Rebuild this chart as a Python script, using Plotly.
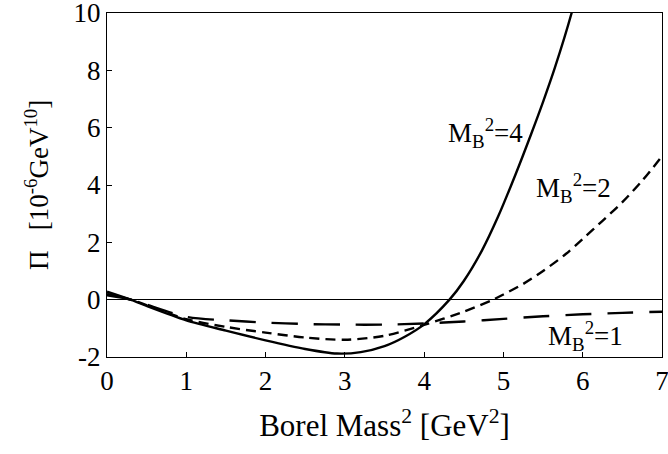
import plotly.graph_objects as go

# Borel mass squared [GeV^2]
x_m4 = [0.0, 0.3, 0.5, 1.0, 1.5, 2.0, 2.5, 2.9, 3.2, 3.5, 3.75, 4.0, 4.32, 4.5, 4.73, 4.93, 5.15, 5.35, 5.5, 5.65, 5.86, 5.95]
y_m4 = [0.28, 0.0, -0.22, -0.72, -1.08, -1.42, -1.72, -1.88, -1.83, -1.62, -1.3, -0.86, 0.0, 0.65, 1.72, 2.88, 4.35, 5.78, 6.9, 8.1, 10.0, 11.0]

x_m2 = [0.0, 0.3, 1.0, 1.5, 2.0, 2.5, 3.0, 3.5, 4.0, 4.5, 4.87, 5.0, 5.25, 5.5, 5.79, 6.0, 6.25, 6.5, 6.75, 7.0]
y_m2 = [0.2, 0.0, -0.68, -0.95, -1.15, -1.32, -1.4, -1.26, -0.88, -0.42, 0.0, 0.18, 0.55, 1.0, 1.6, 2.12, 2.75, 3.4, 4.15, 5.0]

x_m1 = [0.0, 0.3, 1.0, 1.5, 2.0, 2.5, 3.0, 3.5, 4.0, 4.5, 5.0, 5.5, 6.0, 6.5, 7.0]
y_m1 = [0.15, 0.0, -0.6, -0.72, -0.8, -0.85, -0.87, -0.87, -0.83, -0.76, -0.67, -0.58, -0.51, -0.46, -0.42]

x_ticks = [0, 1, 2, 3, 4, 5, 6, 7]
y_ticks = [-2, 0, 2, 4, 6, 8, 10]
y_tick_text = ["-2", "0", "2", "4", "6", "8", "10"]

curve_labels = ["M<sub>B</sub><sup>2</sup>=4", "M<sub>B</sub><sup>2</sup>=2", "M<sub>B</sub><sup>2</sup>=1"]
label_pos = [(4.27, 5.8), (5.38, 3.9), (5.54, -1.28)]

FONT = "Liberation Serif, Times New Roman, serif"
NBSP = "\u00a0"

fig = go.Figure()
for xs, ys, dash in [(x_m4, y_m4, "solid"), (x_m2, y_m2, "10px,6px"), (x_m1, y_m1, "26px,16px")]:
    fig.add_trace(go.Scatter(
        x=xs, y=ys, mode="lines",
        line=dict(color="black", width=2.4, dash=dash, shape="spline", smoothing=0.8),
        showlegend=False, hoverinfo="skip",
    ))

for text, (lx, ly) in zip(curve_labels, label_pos):
    fig.add_annotation(x=lx, y=ly, text=text, showarrow=False,
                       xanchor="left", yanchor="middle",
                       font=dict(family=FONT, size=27, color="black"))

# rotated y-axis title
fig.add_annotation(xref="paper", yref="paper", x=-0.126, y=0.5,
                   text="\u03a0" + NBSP * 3 + "[10<sup>-6</sup>GeV<sup>10</sup>]",
                   textangle=-90, showarrow=False,
                   xanchor="center", yanchor="middle",
                   font=dict(family=FONT, size=27, color="black"))

fig.update_layout(
    width=668, height=454,
    margin=dict(l=107, r=6, t=13, b=97, autoexpand=False),
    paper_bgcolor="white", plot_bgcolor="white",
    font=dict(family=FONT, size=27, color="black"),
    xaxis=dict(
        range=[0, 7], tickvals=x_ticks, ticks="inside", ticklen=5, tickcolor="black",
        ticklabeloverflow="allow", automargin=False,
        showline=True, linecolor="black", linewidth=1, mirror=True,
        showgrid=False, zeroline=False,
        title=dict(text="Borel Mass<sup>2</sup> [GeV<sup>2</sup>]", standoff=18,
                   font=dict(family=FONT, size=31)),
    ),
    yaxis=dict(
        range=[-2, 10], tickvals=y_ticks, ticktext=y_tick_text,
        ticks="inside", ticklen=5, tickcolor="black",
        ticklabeloverflow="allow", automargin=False,
        showline=True, linecolor="black", linewidth=1, mirror=True,
        showgrid=False, zeroline=True, zerolinecolor="black", zerolinewidth=1,
    ),
)

fig.write_html("out.html")
